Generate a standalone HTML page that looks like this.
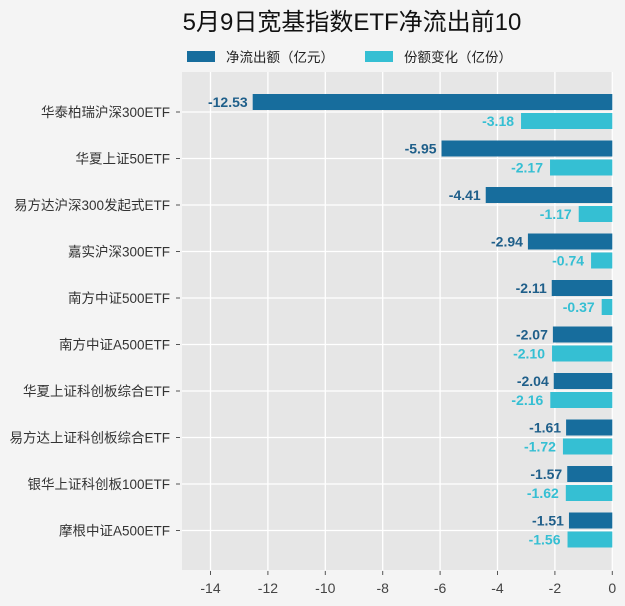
<!DOCTYPE html>
<html><head><meta charset="utf-8"><style>
body{margin:0;background:#f4f4f4;font-family:"Liberation Sans","Noto Sans CJK SC",sans-serif;}
svg{display:block}
</style></head><body>
<svg id="c" width="625" height="606" xmlns="http://www.w3.org/2000/svg">
<rect width="625" height="606" fill="#f4f4f4"/>
<text x="352" y="30" text-anchor="middle" font-size="24" fill="#111">5月9日宽基指数ETF净流出前10</text>
<g>
<rect x="187" y="51" width="28" height="11" fill="#176d9d"/>
<text x="226" y="62" font-size="13.5" fill="#222">净流出额（亿元）</text>
<rect x="365" y="51" width="28" height="11" fill="#35bfd3"/>
<text x="404" y="62" font-size="13.5" fill="#222">份额变化（亿份）</text>
</g>
<rect x="182" y="72" width="431" height="498" fill="#e6e6e6"/>
<g id="grid"></g><g id="bars"></g><g id="axes"></g>
</svg>
<script>
const categories=["华泰柏瑞沪深300ETF","华夏上证50ETF","易方达沪深300发起式ETF","嘉实沪深300ETF","南方中证500ETF","南方中证A500ETF","华夏上证科创板综合ETF","易方达上证科创板综合ETF","银华上证科创板100ETF","摩根中证A500ETF"];
const netOutflow=[-12.53,-5.95,-4.41,-2.94,-2.11,-2.07,-2.04,-1.61,-1.57,-1.51];
const shareChange=[-3.18,-2.17,-1.17,-0.74,-0.37,-2.10,-2.16,-1.72,-1.62,-1.56];
const ticks=[-14,-12,-10,-8,-6,-4,-2,0];
const NS="http://www.w3.org/2000/svg";
const x=v=>612.3+v*28.7;
const y=i=>112+i*46.5;
function mk(p,t,a){const e=document.createElementNS(NS,t);for(const k in a)e.setAttribute(k,a[k]);document.getElementById(p).appendChild(e);return e;}
ticks.forEach(t=>{
 let l=mk('grid','line',{x1:x(t),x2:x(t),y1:72,y2:570,stroke:'#fff','stroke-width':1.3});
 
 
 let tk=mk('axes','line',{x1:x(t),x2:x(t),y1:571,y2:575,stroke:'#555'});
 
 
 let tx=mk('axes','text',{x:x(t),y:593,'text-anchor':'middle','font-size':14,fill:'#444'});
 tx.textContent=t;
 
 
});
categories.forEach((c,i)=>{
 let g=mk('grid','line',{x1:182,x2:613,y1:y(i),y2:y(i),stroke:'#fff','stroke-width':1.3});
 
 
 let tk=mk('axes','line',{x1:176,x2:180,y1:y(i),y2:y(i),stroke:'#555'});
 
 
 let t=mk('axes','text',{x:170,y:y(i)+5,'text-anchor':'end','font-size':13.5,fill:'#333'});
 t.textContent=c;
 
 
 let v=netOutflow[i];
 let b=mk('bars','rect',{x:x(v),y:y(i)-18,width:x(0)-x(v),height:16,fill:'#176d9d'});
 
 
 let lt=mk('bars','text',{x:x(v)-5,y:y(i)-5,'text-anchor':'end','font-size':14,'font-weight':'bold',fill:'#1f5f8a'});
 lt.textContent=v.toFixed(2);
 
 
 let s=shareChange[i];
 let b2=mk('bars','rect',{x:x(s),y:y(i)+1,width:x(0)-x(s),height:16,fill:'#35bfd3'});
 
 
 let l2=mk('bars','text',{x:x(s)-7,y:y(i)+14,'text-anchor':'end','font-size':14,'font-weight':'bold',fill:'#35bfd3'});
 l2.textContent=s.toFixed(2);
 
 
});
</script>
</body></html>
